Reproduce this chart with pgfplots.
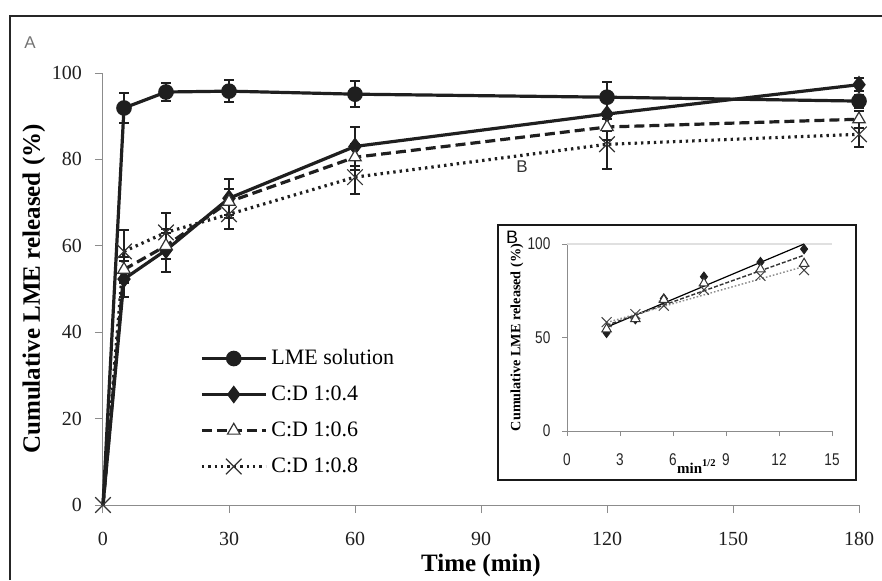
\documentclass[border=0pt]{standalone}
\usepackage{fontspec}
\setmainfont{Liberation Serif}
\newfontfamily\sansf{Liberation Sans}
\newfontfamily\narrowf[FakeStretch=0.8]{Liberation Sans}
\usepackage{pgfplots}
\pgfplotsset{compat=1.18}
\usepackage{pgfplotstable}

\pgfplotstableread{
t y e
5 91.9 3.5
15 95.6 2
30 95.8 2.5
60 95.1 3
120 94.4 3.5
180 93.5 1.5
}\lme
\pgfplotstableread{
t y e
5 52.3 4.2
15 59.0 5
30 71.0 4.5
60 83.0 4.5
120 90.5 4
180 97.3 1.5
}\cdA
\pgfplotstableread{
t y e
5 54.5 3
15 60.0 3
30 70.2 3
60 80.5 3
120 87.5 3
180 89.3 2
}\cdB
\pgfplotstableread{
t y e
5 58.7 5
15 63.1 4.5
30 67.3 3.5
60 75.9 4
120 83.5 5.8
180 85.8 3
}\cdC

\definecolor{ser}{gray}{0.12}
\definecolor{axl}{gray}{0.55}

\begin{document}
\begin{tikzpicture}
\useasboundingbox (-51.5pt,-37.5pt) rectangle (389.5pt,252.5pt);
\draw[line width=1.1pt, draw=black!85] (-46.5pt,-37.5pt) -- (-46.5pt,244.5pt) -- (389.5pt,244.5pt);
\node[font=\sansf\fontsize{8.5}{10}\selectfont, text=black!55] at (-36.5pt,231pt) {A};

\begin{axis}[
  at={(0pt,0pt)}, anchor=south west,
  width=378pt, height=216pt, scale only axis,
  xmin=0, xmax=180, ymin=0, ymax=100,
  xtick={0,30,...,180}, ytick={0,20,...,100},
  axis x line*=bottom, axis y line*=left,
  axis line style={axl, line width=0.5pt},
  tick align=outside, major tick length=4pt,
  tick style={axl, line width=0.5pt},
  clip=false,
  /pgf/number format/assume math mode=true,
  ticklabel style={font=\fontsize{10}{12}\selectfont, text=black!88},
  yticklabel style={xshift=-3pt},
  xticklabel style={yshift=-6pt},
  xlabel={Time (min)},
  ylabel={Cumulative LME released (\%)},
  xlabel style={at={(axis description cs:0.5,-0.139)}, anchor=center, font=\bfseries\fontsize{12.5}{14}\selectfont},
  ylabel style={at={(axis description cs:-0.0913,0.5)}, anchor=center, rotate=0, font=\bfseries\fontsize{12.5}{14}\selectfont},
  legend style={at={(axis description cs:0.128,0.362)}, anchor=north west, draw=none, fill=none,
    inner sep=0pt, row sep=8.5pt, column sep=2pt,
    nodes={inner sep=0pt, text height=7.5pt, text depth=2pt},
    font=\fontsize{11}{13}\selectfont},
  legend cell align=left,
  legend image code/.code={\draw[mark repeat=2,mark phase=2,#1] plot coordinates {(0pt,0pt) (16pt,0pt) (32pt,0pt)};},
  every axis plot/.append style={error bars/error bar style={ser, line width=1pt, solid},
     error bars/error mark options={ser, line width=1pt, mark size=2.3pt, solid, rotate=90}},
]
% segments from origin
\addplot[ser, line width=1.6pt, forget plot] coordinates {(0,0) (5,91.9)};
\addplot[ser, line width=1.6pt, forget plot] coordinates {(0,0) (5,52.3)};
\addplot[ser, line width=1.6pt, dash pattern=on 5pt off 2.5pt, forget plot] coordinates {(0,0) (5,54.5)};
\addplot[ser, line width=1.6pt, dash pattern=on 1.2pt off 2pt, forget plot, mark=x, mark size=5.5pt, mark options={solid, line width=0.6pt, black!80}, mark indices={1}] coordinates {(0,0) (5,58.7)};

\addplot[ser, line width=1.6pt, mark=*, mark size=3.1pt, mark options={solid, fill=ser},
  error bars/.cd, y dir=both, y explicit] table[x=t, y=y, y error=e] {\lme};
\addlegendentry{LME solution}
\addplot[ser, line width=1.6pt, mark=diamond*, mark size=3.2pt, mark options={solid, fill=ser},
  error bars/.cd, y dir=both, y explicit] table[x=t, y=y, y error=e] {\cdA};
\addlegendentry{C:D 1:0.4}
\addplot[ser, line width=1.6pt, dash pattern=on 5pt off 2.5pt, mark=triangle*, mark size=3.6pt, mark options={solid, fill=white, draw=black!80, line width=0.6pt},
  error bars/.cd, y dir=both, y explicit] table[x=t, y=y, y error=e] {\cdB};
\addlegendentry{C:D 1:0.6}
\addplot[ser, line width=1.6pt, dash pattern=on 1.2pt off 2pt, mark=x, mark size=5.5pt, mark options={solid, line width=0.6pt, black!80},
  error bars/.cd, y dir=both, y explicit] table[x=t, y=y, y error=e] {\cdC};
\addlegendentry{C:D 1:0.8}
\end{axis}

\node[font=\sansf\fontsize{8.5}{10}\selectfont, text=black!80] at (209.5pt,169pt) {B};

\draw[draw=black!90, fill=white, line width=1.1pt] (197.5pt,12.5pt) rectangle (376.5pt,140pt);
\node[font=\sansf\fontsize{9}{10}\selectfont] at (204.5pt,134pt) {B};

\begin{axis}[
  at={(232pt,37pt)}, anchor=south west,
  width=132.5pt, height=93.5pt, scale only axis,
  xmin=0, xmax=15, ymin=0, ymax=100,
  xtick={0,3,...,15}, ytick={0,50,100},
  axis x line*=bottom, axis y line*=left,
  axis line style={axl, line width=0.5pt},
  tick align=outside, major tick length=2.5pt,
  tick style={axl, line width=0.5pt},
  extra y ticks={100}, extra y tick labels={}, extra y tick style={grid=major, major grid style={black!12, line width=0.6pt}, major tick length=0pt},
  clip=false,
  /pgf/number format/assume math mode=true,
  ticklabel style={font=\narrowf\fontsize{8.5}{9}\selectfont, text=black!85},
  yticklabel style={xshift=-2.3pt},
  xticklabel style={yshift=-5.5pt},
  xlabel={min\textsuperscript{1/2}},
  ylabel={Cumulative LME released (\%)},
  xlabel style={at={(axis description cs:0.49,-0.19)}, anchor=center, font=\bfseries\fontsize{7.5}{9}\selectfont},
  ylabel style={at={(axis description cs:-0.189,0.5)}, anchor=center, font=\bfseries\fontsize{7.1}{8}\selectfont},
]
\addplot[black, line width=0.6pt] coordinates {(2.24,55.5) (13.42,100)};
\addplot[black!80, line width=0.7pt, dash pattern=on 2pt off 1pt] coordinates {(2.24,56.5) (13.42,94)};
\addplot[black!45, line width=0.7pt, dash pattern=on 0.8pt off 1pt] coordinates {(2.24,58) (13.42,88)};
\addplot[only marks, mark=diamond*, mark size=2.4pt, mark options={fill=ser, draw=ser}] coordinates {(2.24,52.5) (3.87,59.8) (5.48,70.8) (7.75,82.5) (10.95,90.3) (13.42,97.3)};
\addplot[only marks, mark=triangle*, mark size=2.7pt, mark options={fill=white, draw=black!80, line width=0.5pt}] coordinates {(2.24,54.5) (3.87,60.0) (5.48,70.2) (7.75,79.0) (10.95,86.5) (13.42,89.5)};
\addplot[only marks, mark=x, mark size=3.5pt, mark options={black!75, line width=0.5pt}] coordinates {(2.24,58.2) (3.87,62.5) (5.48,67.0) (7.75,75.5) (10.95,83.0) (13.42,86.0)};
\end{axis}
\end{tikzpicture}
\end{document}
